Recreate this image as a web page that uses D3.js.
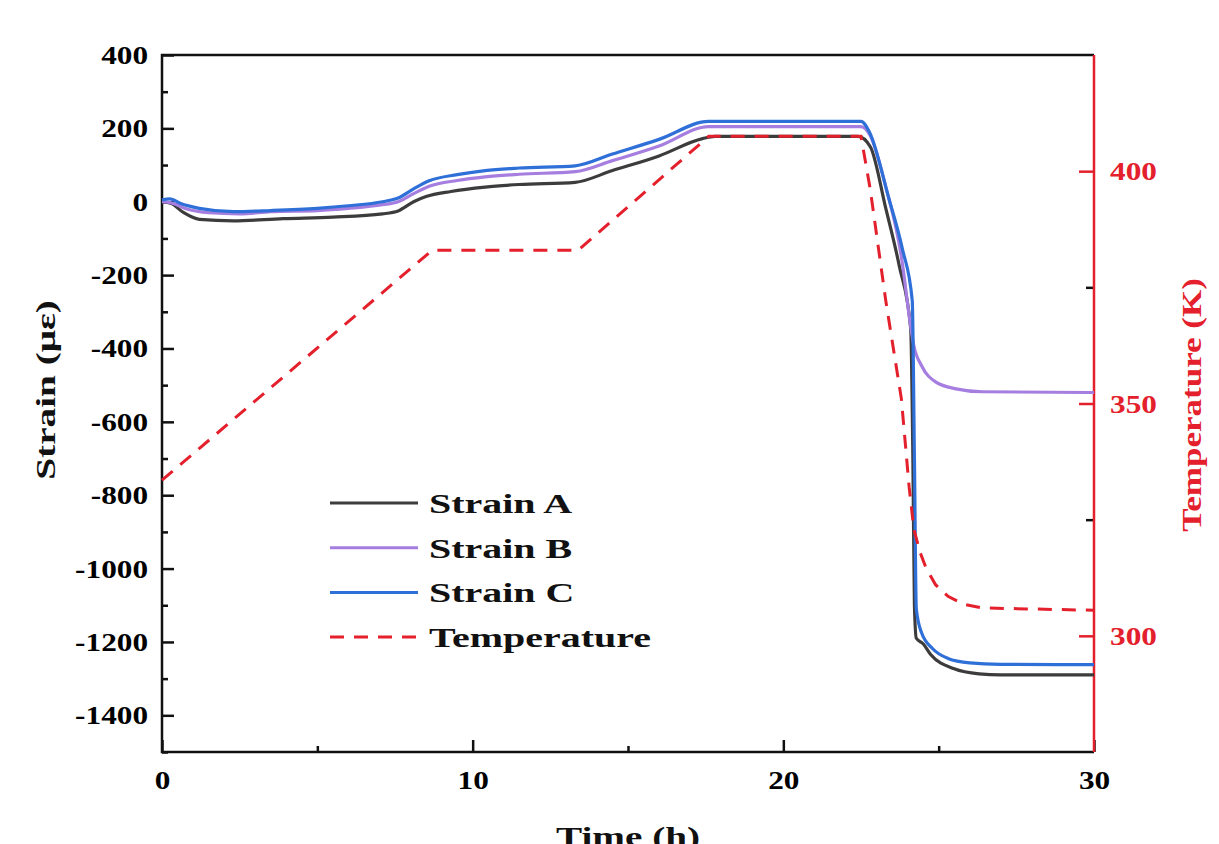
<!DOCTYPE html>
<meta charset="utf-8">
<style>
  body { margin: 0; background: #fff; }
  text { font-family: "Liberation Serif", "Times New Roman", serif; font-weight: bold; }
</style>
<body></body>
<script src="https://cdn.jsdelivr.net/npm/d3@7"></script>
<script>

// series: [time (h), value]
var strainA = [[0,0],[0.3,-5],[0.7,-30],[1.2,-48],[2.3,-52],[3.9,-46],[5.5,-42],[7.1,-33],[7.6,-25],[8.1,0],[8.5,14],[9.3,28],[10.4,40],[11.5,47],[13.3,53],[14.5,85],[16,125],[17.4,172],[17.8,178],[22.4,178],[22.8,150],[23.3,-19],[23.73,-174],[24.1,-346],[24.17,-700],[24.22,-1100],[24.28,-1190],[24.5,-1205],[24.75,-1235],[25.5,-1273],[26.3,-1287],[27,-1290],[30,-1290]];
var strainB = [[0,0],[0.3,-3],[0.8,-20],[1.5,-30],[2.5,-33],[3.5,-27],[5,-24],[6,-18],[7.1,-8],[7.6,0],[8.1,22],[8.6,42],[9.5,58],[10.4,68],[11.5,75],[13.3,82],[14.5,112],[16,152],[17.6,205],[22.5,205],[22.8,180],[23.3,40],[23.8,-150],[24.1,-340],[24.2,-392],[24.45,-447],[24.9,-491],[25.56,-510],[26.4,-518],[30,-520]];
var strainC = [[0,5],[0.25,8],[0.6,-5],[1.2,-18],[2.3,-27],[3.5,-24],[5,-18],[6,-11],[7.1,0],[7.6,10],[8.1,35],[8.6,57],[9.5,74],[10.4,85],[11.5,92],[13.3,98],[14.5,130],[16,170],[17.6,219],[22.5,219],[22.77,190],[23.4,8],[23.83,-128],[24.15,-270],[24.22,-700],[24.28,-1110],[24.45,-1175],[24.8,-1218],[25.3,-1245],[26,-1257],[27,-1261],[30,-1262]];
var temperature = [[0,333.5],[8.7,383],[13.4,383],[17.6,407.5],[22.5,407.5],[22.8,396],[23.3,372],[23.8,351],[24.05,332],[24.2,323],[24.4,318],[24.6,314.5],[24.9,311],[25.3,308.5],[25.8,306.8],[26.4,306],[30,305.5]];

var legendNames = ["Strain A", "Strain B", "Strain C", "Temperature"];
var xTicks = [0, 10, 20, 30];
var yTicks = [400, 200, 0, -200, -400, -600, -800, -1000, -1200, -1400];
var tTicks = [300, 350, 400];

var W = 1219, H = 844;
var pLeft = 162, pRight = 1094, pTop = 55, pBottom = 752;
var red = "#e3202c";

var svg = d3.select("body").append("svg")
    .attr("width", W)
    .attr("height", H);

var x = d3.scaleLinear().domain([0, 30]).range([pLeft, pRight]);
var y = d3.scaleLinear().domain([-1500, 400]).range([pBottom, pTop]);
var yT = d3.scaleLinear().domain([275, 425]).range([pBottom, pTop]);

// widen glyphs like the original's stretched serif
function stretch(sel, k) {
    sel.each(function() {
        var len = this.getComputedTextLength();
        d3.select(this).attr("textLength", len * k).attr("lengthAdjust", "spacingAndGlyphs");
    });
}

// minor ticks first, then major
svg.append("g").attr("transform", "translate(" + pLeft + ",0)")
    .call(d3.axisRight(y).tickValues(d3.range(-1500, 401, 100).filter(function(v) { return yTicks.indexOf(v) < 0; })).tickSize(6).tickFormat(""));
svg.append("g").attr("transform", "translate(0," + pBottom + ")")
    .call(d3.axisTop(x).tickValues([5, 15, 25]).tickSize(6).tickFormat(""));
svg.append("g").attr("transform", "translate(" + pRight + ",0)")
    .call(d3.axisLeft(yT).tickValues([325, 375]).tickSize(8).tickFormat(""));

var yAxis = svg.append("g").attr("transform", "translate(" + pLeft + ",0)")
    .call(d3.axisRight(y).tickValues(yTicks).tickSize(12).tickFormat(function(d) { return String(d); }));
yAxis.selectAll("text").attr("x", -14).attr("text-anchor", "end").attr("dy", "0.34em");

var xAxis = svg.append("g").attr("transform", "translate(0," + pBottom + ")")
    .call(d3.axisTop(x).tickValues(xTicks).tickSize(12));
xAxis.selectAll("text").attr("y", 37).attr("dy", 0);

var tAxis = svg.append("g").attr("transform", "translate(" + pRight + ",0)")
    .call(d3.axisLeft(yT).tickValues(tTicks).tickSize(15));
tAxis.selectAll("text").attr("x", 16).attr("text-anchor", "start").attr("dy", "0.34em").attr("fill", red);

svg.selectAll(".domain").remove();
svg.selectAll(".tick line").attr("stroke", "#111").attr("stroke-width", 2.5);
tAxis.selectAll(".tick line").attr("stroke", red);
svg.selectAll(".tick text").attr("font-size", 25).attr("font-family", "Liberation Serif").attr("font-weight", "bold");
svg.selectAll(".tick text").call(stretch, 1.25);

// frame
svg.append("path").attr("d", "M" + pRight + "," + pTop + "H" + pLeft + "V" + pBottom + "H" + pRight)
    .attr("fill", "none").attr("stroke", "#111").attr("stroke-width", 2.5);
svg.append("line").attr("x1", pRight).attr("x2", pRight).attr("y1", pTop).attr("y2", pBottom)
    .attr("stroke", red).attr("stroke-width", 2.5);

// curves
var line = d3.line().x(function(d) { return x(d[0]); }).y(function(d) { return y(d[1]); }).curve(d3.curveMonotoneX);
var lineT = d3.line().x(function(d) { return x(d[0]); }).y(function(d) { return yT(d[1]); });

var series = [
    {data: strainA, color: "#3c3c3c"},
    {data: strainB, color: "#a57ee0"},
    {data: strainC, color: "#2f6fd8"}
];

series.forEach(function(s) {
    svg.append("path").attr("d", line(s.data))
        .attr("fill", "none").attr("stroke", s.color).attr("stroke-width", 3.2);
});
svg.append("path").attr("d", lineT(temperature))
    .attr("fill", "none").attr("stroke", red).attr("stroke-width", 3)
    .attr("stroke-dasharray", "14,10");

// legend
var legColors = ["#3c3c3c", "#a57ee0", "#2f6fd8", red];
var leg = svg.selectAll(".leg").data(legendNames).enter().append("g")
    .attr("transform", function(d, i) { return "translate(330," + (503 + i * 44.7) + ")"; });
leg.append("line").attr("x1", 0).attr("x2", 88)
    .attr("stroke", function(d, i) { return legColors[i]; })
    .attr("stroke-width", 3)
    .attr("stroke-dasharray", function(d, i) { return i == 3 ? "14,10" : null; });
leg.append("text").attr("x", 99).attr("y", 10).attr("font-size", 27).attr("fill", "#111")
    .text(function(d) { return d; })
    .call(stretch, 1.48);

// axis titles
svg.append("text").attr("transform", "translate(55,390) rotate(-90)").attr("text-anchor", "middle")
    .attr("font-size", 28).attr("fill", "#111").text("Strain (με)").call(stretch, 1.4);
svg.append("text").attr("transform", "translate(1201,405) rotate(-90)").attr("text-anchor", "middle")
    .attr("font-size", 28).attr("fill", red).text("Temperature (K)").call(stretch, 1.25);
svg.append("text").attr("x", 628).attr("y", 846).attr("text-anchor", "middle")
    .attr("font-size", 28).attr("fill", "#111").text("Time (h)").call(stretch, 1.4);

</script>
